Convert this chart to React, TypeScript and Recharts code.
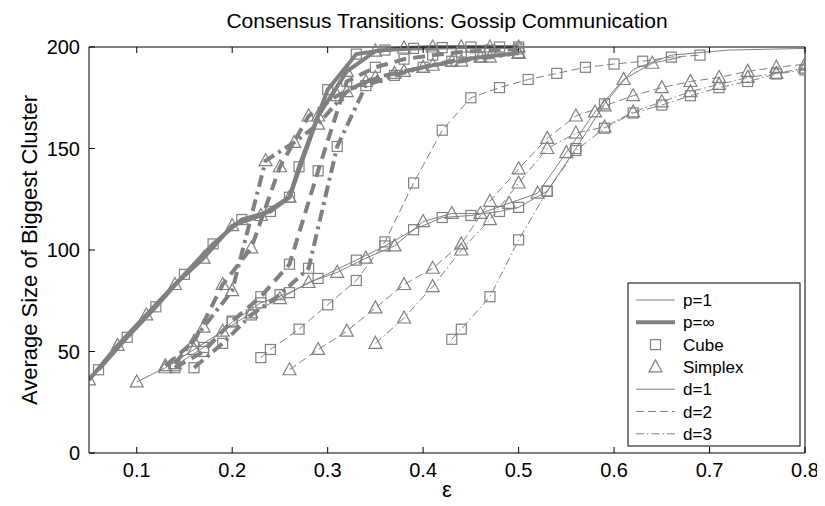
import React from 'react';
import { LineChart, Line, XAxis, YAxis } from 'recharts';

// ---------- axis ticks ----------
const xTicks = [0.1, 0.2, 0.3, 0.4, 0.5, 0.6, 0.7, 0.8];
const yTicks = [0, 50, 100, 150, 200];

// ---------- p = ∞ (thick) ----------
const cubeD1InfX = [0.06, 0.09, 0.12, 0.15, 0.18, 0.21, 0.24, 0.26, 0.27, 0.3, 0.33, 0.36, 0.39, 0.42, 0.45, 0.48, 0.5];
const cubeD1InfY = [41, 57, 72, 88, 103, 115, 119, 126, 141, 179, 196.5, 198.5, 199.3, 199.7, 200, 200, 200];
const simplexD1InfX = [0.05, 0.08, 0.11, 0.14, 0.17, 0.2, 0.23, 0.26, 0.29, 0.32, 0.35, 0.38, 0.41, 0.44, 0.47, 0.5];
const simplexD1InfY = [36, 53, 68, 83, 96, 112, 117, 126, 166, 188, 198, 199.5, 200, 200, 200, 200];
const cubeD2InfX = [0.14, 0.17, 0.2, 0.23, 0.26, 0.29, 0.32, 0.35, 0.38, 0.41, 0.44, 0.47, 0.5];
const cubeD2InfY = [42, 50, 65, 77, 93, 139, 183, 190, 194, 196, 197.5, 198.5, 199];
const cubeD3InfX = [0.16, 0.19, 0.22, 0.25, 0.28, 0.31, 0.34, 0.37, 0.4, 0.43, 0.46, 0.5];
const cubeD3InfY = [42, 54, 68, 78, 91, 151, 181, 186, 190, 193, 195, 197];
const simplexD2InfX = [0.13, 0.16, 0.19, 0.22, 0.25, 0.28, 0.31, 0.34, 0.37, 0.4, 0.43, 0.46, 0.5];
const simplexD2InfY = [43, 55, 83, 101, 141, 166, 176, 183, 187, 190, 193, 195, 197];
const simplexD3InfX = [0.14, 0.17, 0.2, 0.235, 0.265, 0.29, 0.32, 0.35, 0.38, 0.41, 0.44, 0.47, 0.5];
const simplexD3InfY = [44, 62, 80, 144, 153, 162, 178, 185, 188, 191, 193, 195, 197];

// ---------- p = 1 (thin) ----------
const simplexD1X = [0.1, 0.13, 0.16, 0.19, 0.22, 0.25, 0.28, 0.31, 0.34, 0.37, 0.4, 0.43, 0.46, 0.49, 0.52, 0.55, 0.58, 0.61, 0.64, 0.67];
const simplexD1Y = [35, 42, 51, 60, 69, 76, 84, 89, 96, 102, 114, 118, 118, 123, 128, 148, 168, 184, 192, 195];
const cubeD1X = [0.14, 0.17, 0.2, 0.23, 0.26, 0.29, 0.33, 0.36, 0.39, 0.42, 0.45, 0.48, 0.5, 0.53, 0.56, 0.59, 0.62, 0.66, 0.72, 0.8];
const cubeD1Y = [43, 52, 64.5, 74, 79, 86, 95, 102, 110, 116, 117, 119, 121, 129, 150, 172, 189, 196, 198.5, 199.3];
const cubeD2X = [0.23, 0.24, 0.27, 0.3, 0.33, 0.36, 0.39, 0.42, 0.45, 0.48, 0.51, 0.54, 0.57, 0.6, 0.63, 0.66, 0.69];
const cubeD2Y = [47, 51, 61, 73, 85, 104, 133, 159, 175, 180, 184, 187, 190, 191.6, 193, 195, 196];
const simplexD2X = [0.26, 0.29, 0.32, 0.35, 0.38, 0.41, 0.44, 0.47, 0.5, 0.53, 0.56, 0.59, 0.62, 0.65, 0.68, 0.71, 0.74, 0.77, 0.8];
const simplexD2Y = [41, 51, 60, 71.5, 83, 91, 103, 124, 140, 155, 166, 171, 176, 180, 183, 185, 188, 190, 191.5];
const simplexD3X = [0.35, 0.38, 0.41, 0.44, 0.47, 0.5, 0.53, 0.56, 0.59, 0.62, 0.65, 0.68, 0.71, 0.74, 0.77, 0.8];
const simplexD3Y = [54, 66.5, 82, 100, 115, 133, 150, 157.6, 160.6, 168, 173, 178, 181.6, 185, 187, 189.6];
const cubeD3X = [0.43, 0.44, 0.47, 0.5, 0.53, 0.56, 0.59, 0.62, 0.65, 0.68, 0.71, 0.74, 0.77, 0.8];
const cubeD3Y = [56, 61, 77, 105, 129, 149, 160, 167.5, 171.4, 176, 180, 183, 186.7, 188.7];

// ---------- legend labels ----------
const legendLabels = ['p=1', 'p=\u221E', 'Cube', 'Simplex', 'd=1', 'd=2', 'd=3'];

const GRAY = '#808080';
const FONT = '"Liberation Sans", Arial, Helvetica, sans-serif';

type Shape = 'square' | 'triangle';

const zip = (xs: number[], ys: number[]) => xs.map((x, i) => ({ x, y: ys[i] }));

// marks: number of leading points that carry a marker
const series = [
  { id: 'c1inf', xs: cubeD1InfX, ys: cubeD1InfY, shape: 'square' as Shape, d: 1, thick: true, marks: 99 },
  { id: 's1inf', xs: simplexD1InfX, ys: simplexD1InfY, shape: 'triangle' as Shape, d: 1, thick: true, marks: 99 },
  { id: 'c2inf', xs: cubeD2InfX, ys: cubeD2InfY, shape: 'square' as Shape, d: 2, thick: true, marks: 99 },
  { id: 's2inf', xs: simplexD2InfX, ys: simplexD2InfY, shape: 'triangle' as Shape, d: 2, thick: true, marks: 99 },
  { id: 'c3inf', xs: cubeD3InfX, ys: cubeD3InfY, shape: 'square' as Shape, d: 3, thick: true, marks: 99 },
  { id: 's3inf', xs: simplexD3InfX, ys: simplexD3InfY, shape: 'triangle' as Shape, d: 3, thick: true, marks: 99 },
  { id: 'c1', xs: cubeD1X, ys: cubeD1Y, shape: 'square' as Shape, d: 1, thick: false, marks: 16 },
  { id: 's1', xs: simplexD1X, ys: simplexD1Y, shape: 'triangle' as Shape, d: 1, thick: false, marks: 19 },
  { id: 'c2', xs: cubeD2X, ys: cubeD2Y, shape: 'square' as Shape, d: 2, thick: false, marks: 99 },
  { id: 's2', xs: simplexD2X, ys: simplexD2Y, shape: 'triangle' as Shape, d: 2, thick: false, marks: 99 },
  { id: 'c3', xs: cubeD3X, ys: cubeD3Y, shape: 'square' as Shape, d: 3, thick: false, marks: 99 },
  { id: 's3', xs: simplexD3X, ys: simplexD3Y, shape: 'triangle' as Shape, d: 3, thick: false, marks: 99 },
];

const dashFor = (d: number, thick: boolean) => {
  if (d === 2) return thick ? '12 7' : '8 4';
  if (d === 3) return thick ? '12 5 3 5' : '8 3 1.5 3';
  return undefined;
};

const SquareMark = ({ cx, cy }: { cx: number; cy: number }) => (
  <rect x={cx - 5} y={cy - 5} width={10} height={10} fill="none" stroke={GRAY} strokeWidth={1.2} />
);
const TriMark = ({ cx, cy }: { cx: number; cy: number }) => (
  <polygon
    points={`${cx},${cy - 7} ${cx - 6.5},${cy + 5} ${cx + 6.5},${cy + 5}`}
    fill="none"
    stroke={GRAY}
    strokeWidth={1.2}
  />
);

const makeDot = (shape: Shape, marks: number) => (props: any) => {
  const { cx, cy, index } = props;
  if (cx == null || cy == null || index >= marks) return <g key={index} />;
  return shape === 'square' ? (
    <SquareMark key={index} cx={cx} cy={cy} />
  ) : (
    <TriMark key={index} cx={cx} cy={cy} />
  );
};

const W = 817;
const H = 498;

const LegendBox = () => {
  const left = 620;
  const top = 275;
  const rowY = (i: number) => top + 17 + i * 22.3;
  const lx1 = left + 8;
  const lx2 = left + 47;
  const mx = (lx1 + lx2) / 2;
  const tx = left + 55;
  return (
    <g>
      <rect x={left} y={top} width={172} height={163} fill="#fff" stroke="#000" strokeWidth={1} />
      {legendLabels.map((lab, i) => {
        const y = rowY(i);
        let sample: React.ReactNode = null;
        if (i === 0) sample = <line x1={lx1} x2={lx2} y1={y} y2={y} stroke={GRAY} strokeWidth={1} />;
        if (i === 1) sample = <line x1={lx1} x2={lx2} y1={y} y2={y} stroke={GRAY} strokeWidth={4} />;
        if (i === 2) sample = <SquareMark cx={mx} cy={y} />;
        if (i === 3) sample = <TriMark cx={mx} cy={y} />;
        if (i >= 4)
          sample = (
            <line x1={lx1} x2={lx2} y1={y} y2={y} stroke={GRAY} strokeWidth={1} strokeDasharray={dashFor(i - 3, false)} />
          );
        return (
          <g key={lab}>
            {sample}
            <text x={tx} y={y + 6} fontSize={17} fontFamily={FONT} fill="#000">
              {lab}
            </text>
          </g>
        );
      })}
    </g>
  );
};

export default function App() {
  return (
    <div style={{ position: 'relative', width: W, height: H }}>
      <LineChart width={W} height={H} margin={{ top: 38, right: 19, left: 0, bottom: 0 }}>
        <XAxis
          xAxisId="b"
          type="number"
          dataKey="x"
          domain={[0.05, 0.8]}
          ticks={xTicks}
          allowDataOverflow
          height={53}
          stroke="#000"
          tickSize={-6}
          tickMargin={16}
          tick={{ fill: '#000', fontSize: 20, fontFamily: FONT }}
          tickFormatter={(v: number) => String(v)}
        />
        <XAxis
          xAxisId="t"
          orientation="top"
          type="number"
          dataKey="x"
          domain={[0.05, 0.8]}
          ticks={xTicks}
          allowDataOverflow
          height={1}
          stroke="#000"
          tickSize={-6}
          tickFormatter={() => ''}
        />
        <YAxis
          yAxisId="l"
          type="number"
          domain={[0, 200]}
          ticks={yTicks}
          width={81}
          stroke="#000"
          tickSize={-6}
          tickMargin={15}
          tick={{ fill: '#000', fontSize: 20, fontFamily: FONT }}
        />
        <YAxis
          yAxisId="r"
          orientation="right"
          type="number"
          domain={[0, 200]}
          ticks={yTicks}
          width={1}
          stroke="#000"
          tickSize={-6}
          tickFormatter={() => ''}
        />
        {series.map((s) => (
          <Line
            key={s.id}
            xAxisId="b"
            yAxisId="l"
            data={zip(s.xs, s.ys)}
            dataKey="y"
            type="linear"
            stroke={GRAY}
            strokeWidth={s.thick ? 4 : 1}
            strokeDasharray={dashFor(s.d, s.thick)}
            dot={makeDot(s.shape, s.marks)}
            activeDot={false}
            isAnimationActive={false}
          />
        ))}
      </LineChart>
      <svg
        width={W}
        height={H}
        style={{ position: 'absolute', left: 0, top: 0, pointerEvents: 'none' }}
      >
        <text x={439} y={20} textAnchor="middle" fontSize={21} fontFamily={FONT} fill="#000">
          Consensus Transitions: Gossip Communication
        </text>
        <text
          x={29}
          y={242}
          textAnchor="middle"
          fontSize={22}
          fontFamily={FONT}
          fill="#000"
          transform="rotate(-90 29 242)"
        >
          Average Size of Biggest Cluster
        </text>
        <text x={439} y={489} textAnchor="middle" fontSize={22} fontFamily={FONT} fill="#000">
          {'\u03B5'}
        </text>
        <LegendBox />
      </svg>
    </div>
  );
}
